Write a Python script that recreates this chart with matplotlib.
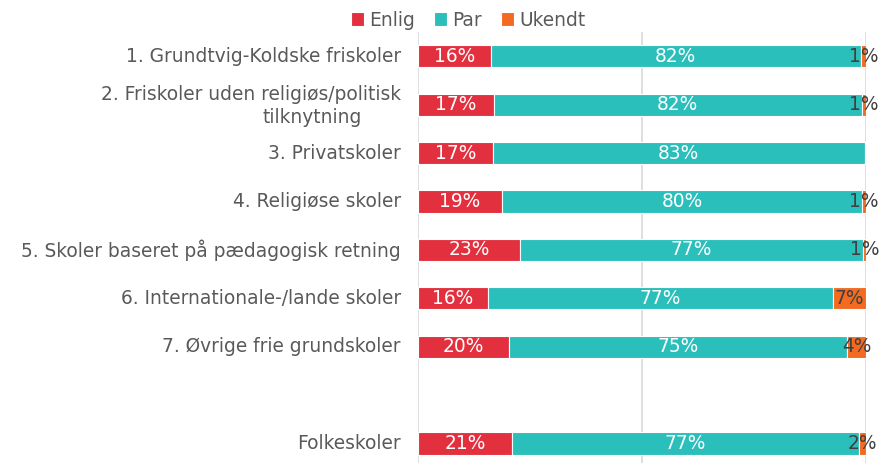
import matplotlib
matplotlib.use("Agg")
import matplotlib.pyplot as plt
import numpy as np

categories = [
    "1. Grundtvig-Koldske friskoler",
    "2. Friskoler uden religiøs/politisk\ntilknytning",
    "3. Privatskoler",
    "4. Religiøse skoler",
    "5. Skoler baseret på pædagogisk retning",
    "6. Internationale-/lande skoler",
    "7. Øvrige frie grundskoler",
    "Folkeskoler",
]
positions = [0, 1, 2, 3, 4, 5, 6, 8]

enlig = [16.2, 17.0, 16.7, 18.8, 22.8, 15.6, 20.3, 21.0]
par = [82.6, 82.0, 83.0, 80.3, 76.5, 77.0, 75.5, 77.4]
ukendt = [1.2, 1.0, 0.3, 0.9, 0.7, 7.4, 4.2, 1.6]
enlig_lbl = ["16%", "17%", "17%", "19%", "23%", "16%", "20%", "21%"]
par_lbl = ["82%", "82%", "83%", "80%", "77%", "77%", "75%", "77%"]
ukendt_lbl = ["1%", "1%", "", "1%", "1%", "7%", "4%", "2%"]

c_enlig = "#E3303F"
c_par = "#2BBFBC"
c_ukendt = "#F26B21"
txt = "#595959"

plt.rcParams["font.family"] = "DejaVu Sans"
fig = plt.figure(figsize=(8.81, 4.63), dpi=100)
ax = fig.add_axes([418 / 881, 0.0, 448 / 881, 1 - 32 / 463])

h = 0.46
e = np.array(enlig)
p = np.array(par)
u = np.array(ukendt)
ax.barh(positions, e, height=h, color=c_enlig, edgecolor="white", linewidth=0.8, label="Enlig", zorder=3)
ax.barh(positions, p, left=e, height=h, color=c_par, edgecolor="white", linewidth=0.8, label="Par", zorder=3)
ax.barh(positions, u, left=e + p, height=h, color=c_ukendt, edgecolor="white", linewidth=0.8, label="Ukendt", zorder=3)

fs = 13.4
for i, y in enumerate(positions):
    ax.text(e[i] / 2, y, enlig_lbl[i], ha="center", va="center", color="white", fontsize=fs, zorder=4)
    ax.text(e[i] + p[i] / 2, y, par_lbl[i], ha="center", va="center", color="white", fontsize=fs, zorder=4)
    if ukendt_lbl[i]:
        ax.text(e[i] + p[i] + u[i] / 2, y, ukendt_lbl[i], ha="center", va="center", color="#404040",
                fontsize=fs, zorder=4, clip_on=False)

ax.set_xlim(0, 100)
ax.set_ylim(8.4, -0.5)
ax.set_xticks([0, 50, 100])
ax.set_xticklabels([])
ax.tick_params(axis="x", length=0)
ax.grid(axis="x", color="#D9D9D9", linewidth=1.2, zorder=0)
for s in ax.spines.values():
    s.set_visible(False)

ax.set_yticks([])
for i, y in enumerate(positions):
    if "\n" in categories[i]:
        first, second = categories[i].split("\n")
        ax.text(-3.8, y - 0.2, first, ha="right", va="center", color=txt, fontsize=fs)
        ax.text(-12.5, y + 0.27, second, ha="right", va="center", color=txt, fontsize=fs)
    else:
        ax.text(-3.8, y, categories[i], ha="right", va="center", color=txt, fontsize=fs)

fig.legend(loc="center", bbox_to_anchor=(468 / 881, 1 - 20 / 463), ncol=3, frameon=False,
           fontsize=fs, handlelength=0.7, handleheight=0.7, handletextpad=0.3,
           columnspacing=1.0, labelcolor=txt)

fig.savefig("out.png", dpi=100)
